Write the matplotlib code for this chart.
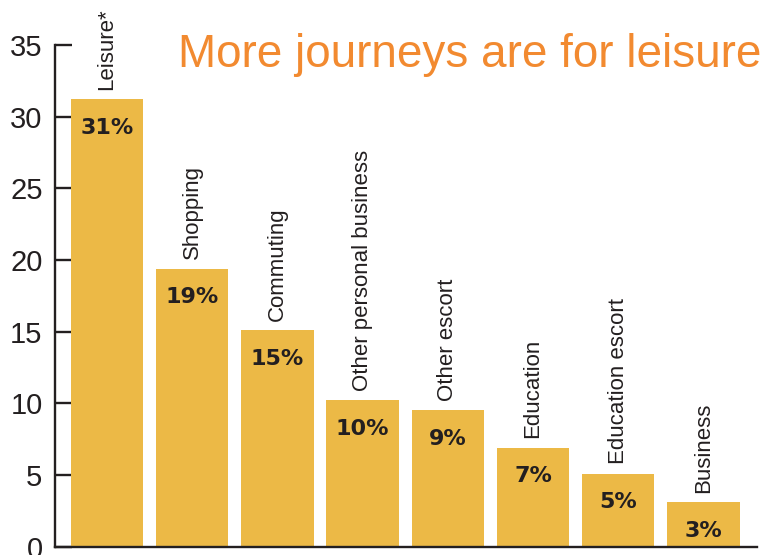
import numpy as np
import matplotlib.pyplot as plt

categories = ["Leisure*", "Shopping", "Commuting", "Other personal business",
              "Other escort", "Education", "Education escort", "Business"]
values = [31.2, 19.4, 15.1, 10.2, 9.5, 6.9, 5.1, 3.1]
value_labels = ["31%", "19%", "15%", "10%", "9%", "7%", "5%", "3%"]
yticks = [0, 5, 10, 15, 20, 25, 30, 35]

plt.rcParams['font.family'] = ['Liberation Sans', 'DejaVu Sans']


def main():
    fig = plt.figure(figsize=(7.64, 5.55), dpi=100)
    ax = fig.add_axes([0.072, 0.015, 0.919, 0.904])

    x = np.arange(len(categories))
    ax.bar(x, values, width=0.85, color="#ECB946", zorder=2)

    dark = "#231f20"
    for xi, v, cat, lab in zip(x, values, categories, value_labels):
        ax.text(xi, v + 0.65, cat, rotation=90, ha="center", va="bottom",
                fontsize=16, color=dark)
        ax.text(xi, v - 2.0, lab, ha="center", va="center",
                fontsize=16, fontweight="bold", color=dark,
                family="DejaVu Sans")

    ax.set_xlim(-0.61, 7.63)
    ax.set_ylim(0, 35)
    ax.set_yticks(yticks)
    ax.set_xticks([])
    ax.tick_params(axis="y", direction="in", length=12, width=1.7,
                   color=dark, labelsize=21, labelcolor=dark, pad=9)
    for s in ["top", "right"]:
        ax.spines[s].set_visible(False)
    for s in ["left", "bottom"]:
        ax.spines[s].set_linewidth(1.7)
        ax.spines[s].set_color(dark)

    fig.text(0.997, 0.88, "More journeys are for leisure", ha="right",
             va="baseline", fontsize=33, color="#F28A30")

    fig.savefig("out.png", dpi=100)


if __name__ == "__main__":
    main()
